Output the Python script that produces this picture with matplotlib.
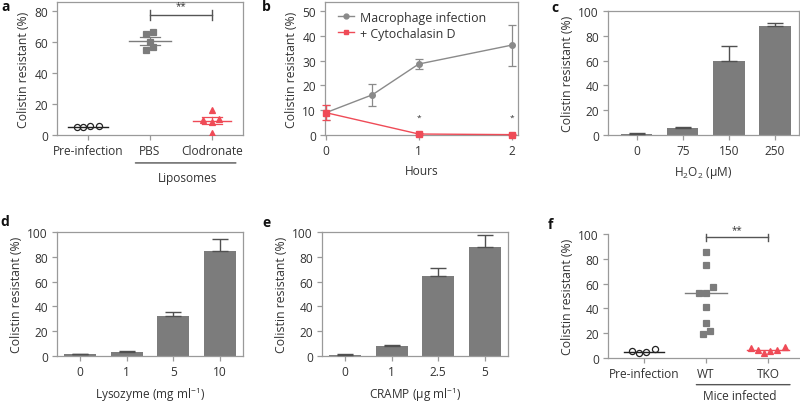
import matplotlib
matplotlib.use("Agg")
import matplotlib.pyplot as plt
from matplotlib.lines import Line2D
import numpy as np

plt.rcParams['font.family'] = ['Open Sans', 'DejaVu Sans']
plt.rcParams['mathtext.fontset'] = 'custom'
plt.rcParams['mathtext.rm'] = 'Open Sans'
plt.rcParams['mathtext.it'] = 'Open Sans:italic'

TXT = '#333333'
SPN = '#9a9a9a'
GRAY = '#7c7c7c'
RED = '#ef4b57'
FS = 8.8
TFS = 8.6

# ---------------- data ----------------
a_groups = ['Pre-infection', 'PBS', 'Clodronate']
a_pre = [5.4, 5.0, 5.5, 6.0]
a_pre_jit = [-0.18, -0.08, 0.04, 0.18]
a_pbs = [65.3, 66.8, 60.3, 55.1, 56.6]
a_pbs_jit = [-0.06, 0.05, 0.0, -0.06, 0.05]
a_clo = [16.0, 9.7, 8.4, 10.6, 1.5]
a_clo_jit = [0.0, -0.14, 0.0, 0.12, 0.0]

b_hours_mac = [0, 0.5, 1, 2]
b_mac = [9.0, 16.2, 28.6, 36.2]
b_mac_err = [3.0, 4.4, 1.9, 8.2]
b_hours_cyt = [0, 1, 2]
b_cyt = [9.0, 0.4, 0.15]
b_cyt_err = [3.0, 0.3, 0.2]

c_labels = ['0', '75', '150', '250']
c_vals = [0.8, 5.9, 59.5, 87.6]
c_err = [0.5, 0.6, 12.1, 2.7]

d_labels = ['0', '1', '5', '10']
d_vals = [1.3, 3.2, 31.9, 84.6]
d_err = [0.5, 0.6, 3.2, 10.0]

e_labels = ['0', '1', '2.5', '5']
e_vals = [1.1, 8.1, 64.9, 87.6]
e_err = [0.3, 0.8, 6.2, 9.7]

f_groups = ['Pre-infection', 'WT', 'TKO']
f_pre = [5.4, 4.0, 4.8, 7.0]
f_pre_jit = [-0.19, -0.08, 0.04, 0.17]
f_wt = [85.2, 75.0, 52.7, 52.7, 57.0, 41.1, 28.2, 21.5, 19.4]
f_wt_jit = [0.0, 0.0, -0.11, 0.0, 0.12, 0.0, 0.0, 0.07, -0.05]
f_tko = [8.3, 6.2, 4.0, 5.6, 6.7, 8.9]
f_tko_jit = [-0.28, -0.16, -0.06, 0.04, 0.15, 0.27]

ylabel = 'Colistin resistant (%)'

W, H = 800, 406
fig = plt.figure(figsize=(W / 100, H / 100), dpi=100)


def ax_px(l, t, r, b):
    return fig.add_axes([l / W, 1 - b / H, (r - l) / W, (b - t) / H])


def style(ax, box=True):
    for s in ['left', 'bottom', 'top', 'right']:
        ax.spines[s].set_color(SPN)
        ax.spines[s].set_linewidth(0.9)
    if not box:
        ax.spines['top'].set_visible(False)
        ax.spines['right'].set_visible(False)
    ax.tick_params(axis='both', colors=SPN, labelcolor=TXT, labelsize=TFS,
                   length=3.5, width=0.9, pad=3)
    ax.set_ylabel(ylabel, color=TXT, fontsize=FS, labelpad=3)


def label(x, y, s):
    fig.text(x / W, 1 - y / H, s, fontsize=10, fontweight='bold', color='#111111',
             ha='left', va='center')


def dots(ax, xc, vals, jit, marker, color, mfc, ms, center, linecol, half=0.33,
         sem=False):
    xs = [xc + j for j in jit]
    ax.plot(xs, vals, linestyle='none', marker=marker, color=color, mfc=mfc,
            ms=ms, mew=0.9, zorder=3)
    ax.plot([xc - half, xc + half], [center, center], color=linecol, lw=1.0, zorder=2)
    if sem:
        v = np.array(vals)
        se = v.std(ddof=1) / np.sqrt(len(v))
        ax.plot([xc - 0.16, xc + 0.16], [center + se] * 2, color=linecol, lw=0.9, zorder=2)
        ax.plot([xc - 0.16, xc + 0.16], [center - se] * 2, color=linecol, lw=0.9, zorder=2)
        ax.plot([xc, xc], [center - se, center + se], color=linecol, lw=0.9, zorder=2)


def bars(ax, labels, vals, err):
    x = np.arange(len(labels))
    ax.bar(x, vals, width=0.68, color=GRAY, zorder=2)
    ax.errorbar(x, vals, yerr=[np.zeros(len(vals)), err], fmt='none',
                ecolor='#505050', elinewidth=1.0, capsize=6, capthick=1.0, zorder=3)
    ax.set_xticks(x)
    ax.set_xticklabels(labels)
    ax.set_xlim(-0.55, 3.5)
    ax.set_ylim(0, 100)
    ax.set_yticks([0, 20, 40, 60, 80, 100])


# ---------------- panel a ----------------
ax = ax_px(57, 3, 243, 136)
style(ax, box=True)
dots(ax, 0, a_pre, a_pre_jit, 'o', '#222222', 'none', 4.4, np.mean(a_pre), '#222222')
dots(ax, 1, a_pbs, a_pbs_jit, 's', GRAY, GRAY, 4.7, np.mean(a_pbs), GRAY, half=0.34, sem=True)
dots(ax, 2, a_clo, a_clo_jit, '^', RED, RED, 4.7, np.mean(a_clo), RED, half=0.31, sem=True)
ax.set_xlim(-0.5, 2.5)
ax.set_ylim(0, 86)
ax.set_yticks([0, 20, 40, 60, 80])
ax.set_xticks([0, 1, 2])
ax.set_xticklabels(a_groups)
ax.plot([1, 2], [77.6, 77.6], color='#555555', lw=1.0)
ax.plot([1, 1], [74.5, 80.7], color='#555555', lw=1.0)
ax.plot([2, 2], [74.5, 80.7], color='#555555', lw=1.0)
ax.text(1.5, 79.8, '**', ha='center', va='bottom', fontsize=7, color=TXT)
ax.annotate('', xy=(2.43, -0.21), xycoords=('data', 'axes fraction'),
            xytext=(0.72, -0.21), textcoords=('data', 'axes fraction'),
            arrowprops=dict(arrowstyle='-', color='#555555', lw=1.0))
ax.text(1.6, -0.32, 'Liposomes', transform=ax.get_xaxis_transform(), ha='center',
        va='center', fontsize=TFS, color=TXT)
label(1, 7, 'a')

# ---------------- panel b ----------------
ax = ax_px(325, 3, 518, 136)
style(ax, box=True)
ax.errorbar(b_hours_mac, b_mac, yerr=b_mac_err, color='#8a8a8a', marker='o', ms=4,
            lw=1.0, elinewidth=0.9, capsize=3, capthick=0.9, zorder=3)
ax.errorbar(b_hours_cyt, b_cyt, yerr=b_cyt_err, color=RED, marker='s', ms=4,
            lw=1.0, elinewidth=0.9, capsize=3, capthick=0.9, zorder=4, clip_on=False)
for hx in [1, 2]:
    ax.text(hx, 7.0, '*', ha='center', va='center', fontsize=6, color=TXT)
ax.set_xlim(-0.01, 2.07)
ax.set_ylim(0, 53.6)
ax.set_yticks([0, 10, 20, 30, 40, 50])
ax.set_xticks([0, 1, 2])
ax.set_xlabel('Hours', color=TXT, fontsize=TFS, labelpad=5)
handles = [Line2D([], [], color='#8a8a8a', marker='o', ms=3.5, lw=1.0),
           Line2D([], [], color=RED, marker='s', ms=3.5, lw=1.0)]
leg = ax.legend(handles, ['Macrophage infection', '+ Cytochalasin D'],
                loc='upper left', frameon=False, fontsize=TFS + 0.3, handlelength=1.3,
                handletextpad=0.5, borderaxespad=0.3, labelspacing=0.25,
                bbox_to_anchor=(0.02, 1.0))
for t in leg.get_texts():
    t.set_color(TXT)
label(262, 7, 'b')

# ---------------- panel c ----------------
ax = ax_px(608, 12, 799, 136)
style(ax, box=True)
bars(ax, c_labels, c_vals, c_err)
ax.set_xlim(-0.62, 3.52)
ax.set_xlabel(r'H$_\mathregular{2}$O$_\mathregular{2}$ (µM)', color=TXT, fontsize=TFS,
              labelpad=5)
label(551, 8, 'c')

# ---------------- panel d ----------------
ax = ax_px(57, 233, 243, 357)
style(ax, box=True)
bars(ax, d_labels, d_vals, d_err)
ax.set_xlim(-0.49, 3.49)
ax.set_xlabel(r'Lysozyme (mg ml$^{\mathregular{-1}}$)', color=TXT, fontsize=TFS,
              labelpad=5)
label(0, 222, 'd')

# ---------------- panel e ----------------
ax = ax_px(322, 233, 508, 357)
style(ax, box=True)
bars(ax, e_labels, e_vals, e_err)
ax.set_xlim(-0.5, 3.5)
ax.set_xlabel(r'CRAMP (µg ml$^{\mathregular{-1}}$)', color=TXT, fontsize=TFS,
              labelpad=5)
label(262, 223, 'e')

# ---------------- panel f ----------------
ax = ax_px(608, 235, 799, 359)
style(ax, box=False)
dots(ax, 0, f_pre, f_pre_jit, 'o', '#222222', 'none', 4.4, np.median(f_pre), '#222222')
dots(ax, 1, f_wt, f_wt_jit, 's', GRAY, GRAY, 4.7, np.median(f_wt), GRAY, half=0.34)
dots(ax, 2, f_tko, f_tko_jit, '^', RED, RED, 4.7, np.median(f_tko), RED, half=0.34)
ax.set_xlim(-0.58, 2.5)
ax.set_ylim(0, 100)
ax.set_yticks([0, 20, 40, 60, 80, 100])
ax.set_xticks([0, 1, 2])
ax.set_xticklabels(f_groups)
for xx in [1, 2]:
    ax.plot([xx, xx], [94.5, 100], color='#555555', lw=1.0, clip_on=False)
ax.plot([1, 2], [97.3, 97.3], color='#555555', lw=1.0, clip_on=False)
ax.text(1.5, 99.0, '**', ha='center', va='bottom', fontsize=7, color=TXT)
ax.annotate('', xy=(2.4, -0.215), xycoords=('data', 'axes fraction'),
            xytext=(0.8, -0.215), textcoords=('data', 'axes fraction'),
            arrowprops=dict(arrowstyle='-', color='#555555', lw=1.0))
ax.text(1.55, -0.305, 'Mice infected', transform=ax.get_xaxis_transform(), ha='center',
        va='center', fontsize=TFS, color=TXT)
label(548, 225, 'f')

fig.savefig('out.png', dpi=100)
